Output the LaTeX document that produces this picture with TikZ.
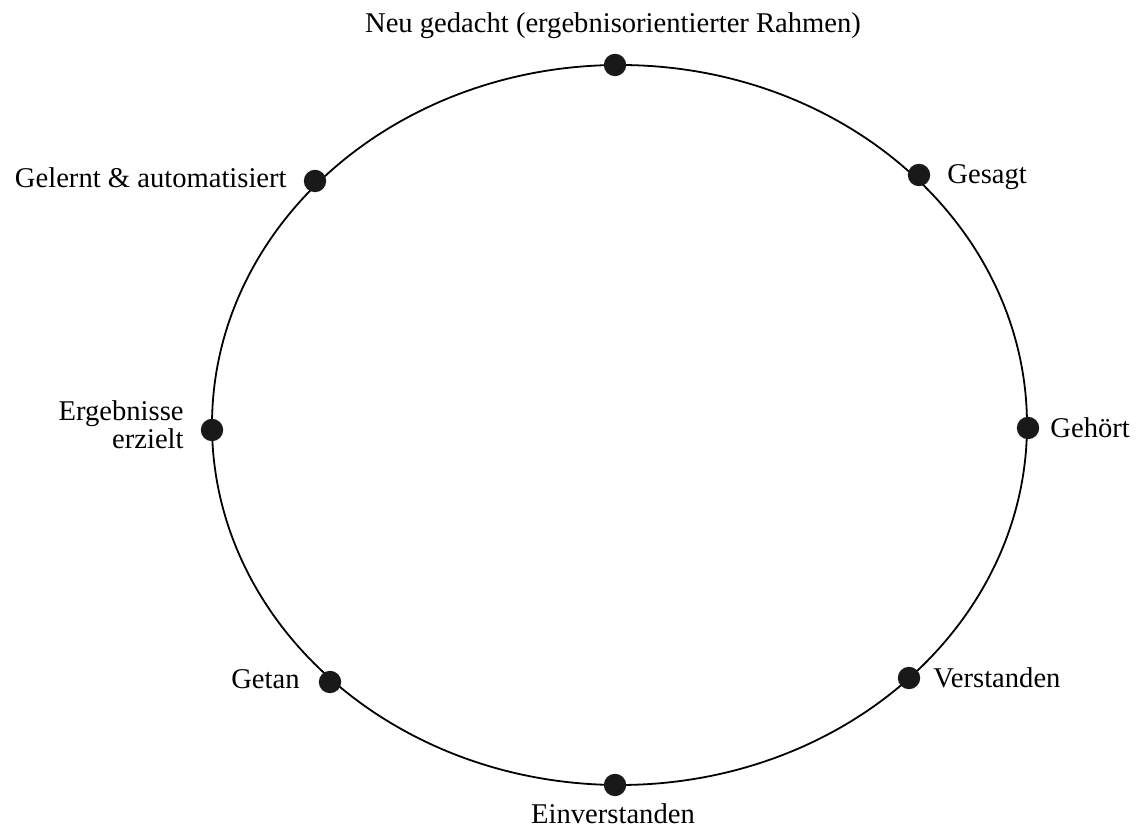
\documentclass[tikz,border=0pt]{standalone}
\usepackage{fontspec}
\setmainfont{Liberation Serif}
\begin{document}
\begin{tikzpicture}[x=0.5pt,y=0.5pt,
  dot/.style={circle,fill=black!90,inner sep=0pt,minimum size=11.2pt},
  lbl/.style={font=\fontsize{14.3}{13}\selectfont,inner sep=0pt,align=center},
  ring/.style={line width=0.9pt}]
\useasboundingbox (0,0) rectangle (1138,833);
\coordinate (c) at (619.5,408);
\draw[ring] (c) ellipse [x radius=407.5, y radius=360];
\node[dot] (d1) at (615,768) {};
\node[dot] (d2) at (919,658) {};
\node[dot] (d3) at (1028,405) {};
\node[dot] (d4) at (909,155) {};
\node[dot] (d5) at (615,48) {};
\node[dot] (d6) at (330,151) {};
\node[dot] (d7) at (212,403) {};
\node[dot] (d8) at (315,652) {};
\node[lbl,anchor=base] (l1) at (613,800) {Neu gedacht (ergebnisorientierter Rahmen)};
\node[lbl,anchor=base west] (l2) at (947,649) {Gesagt};
\node[lbl,anchor=base west] (l3) at (1050,395) {Gehört};
\node[lbl,anchor=base west] (l4) at (933,145) {Verstanden};
\node[lbl,anchor=base] (l5) at (613,9) {Einverstanden};
\node[lbl,anchor=base east] (l6) at (300,144) {Getan};
\node[lbl,anchor=base east,align=right] (l7) at (184,384) {Ergebnisse\\erzielt};
\node[lbl,anchor=base east] (l8) at (287,645) {Gelernt \& automatisiert};
\end{tikzpicture}
\end{document}
